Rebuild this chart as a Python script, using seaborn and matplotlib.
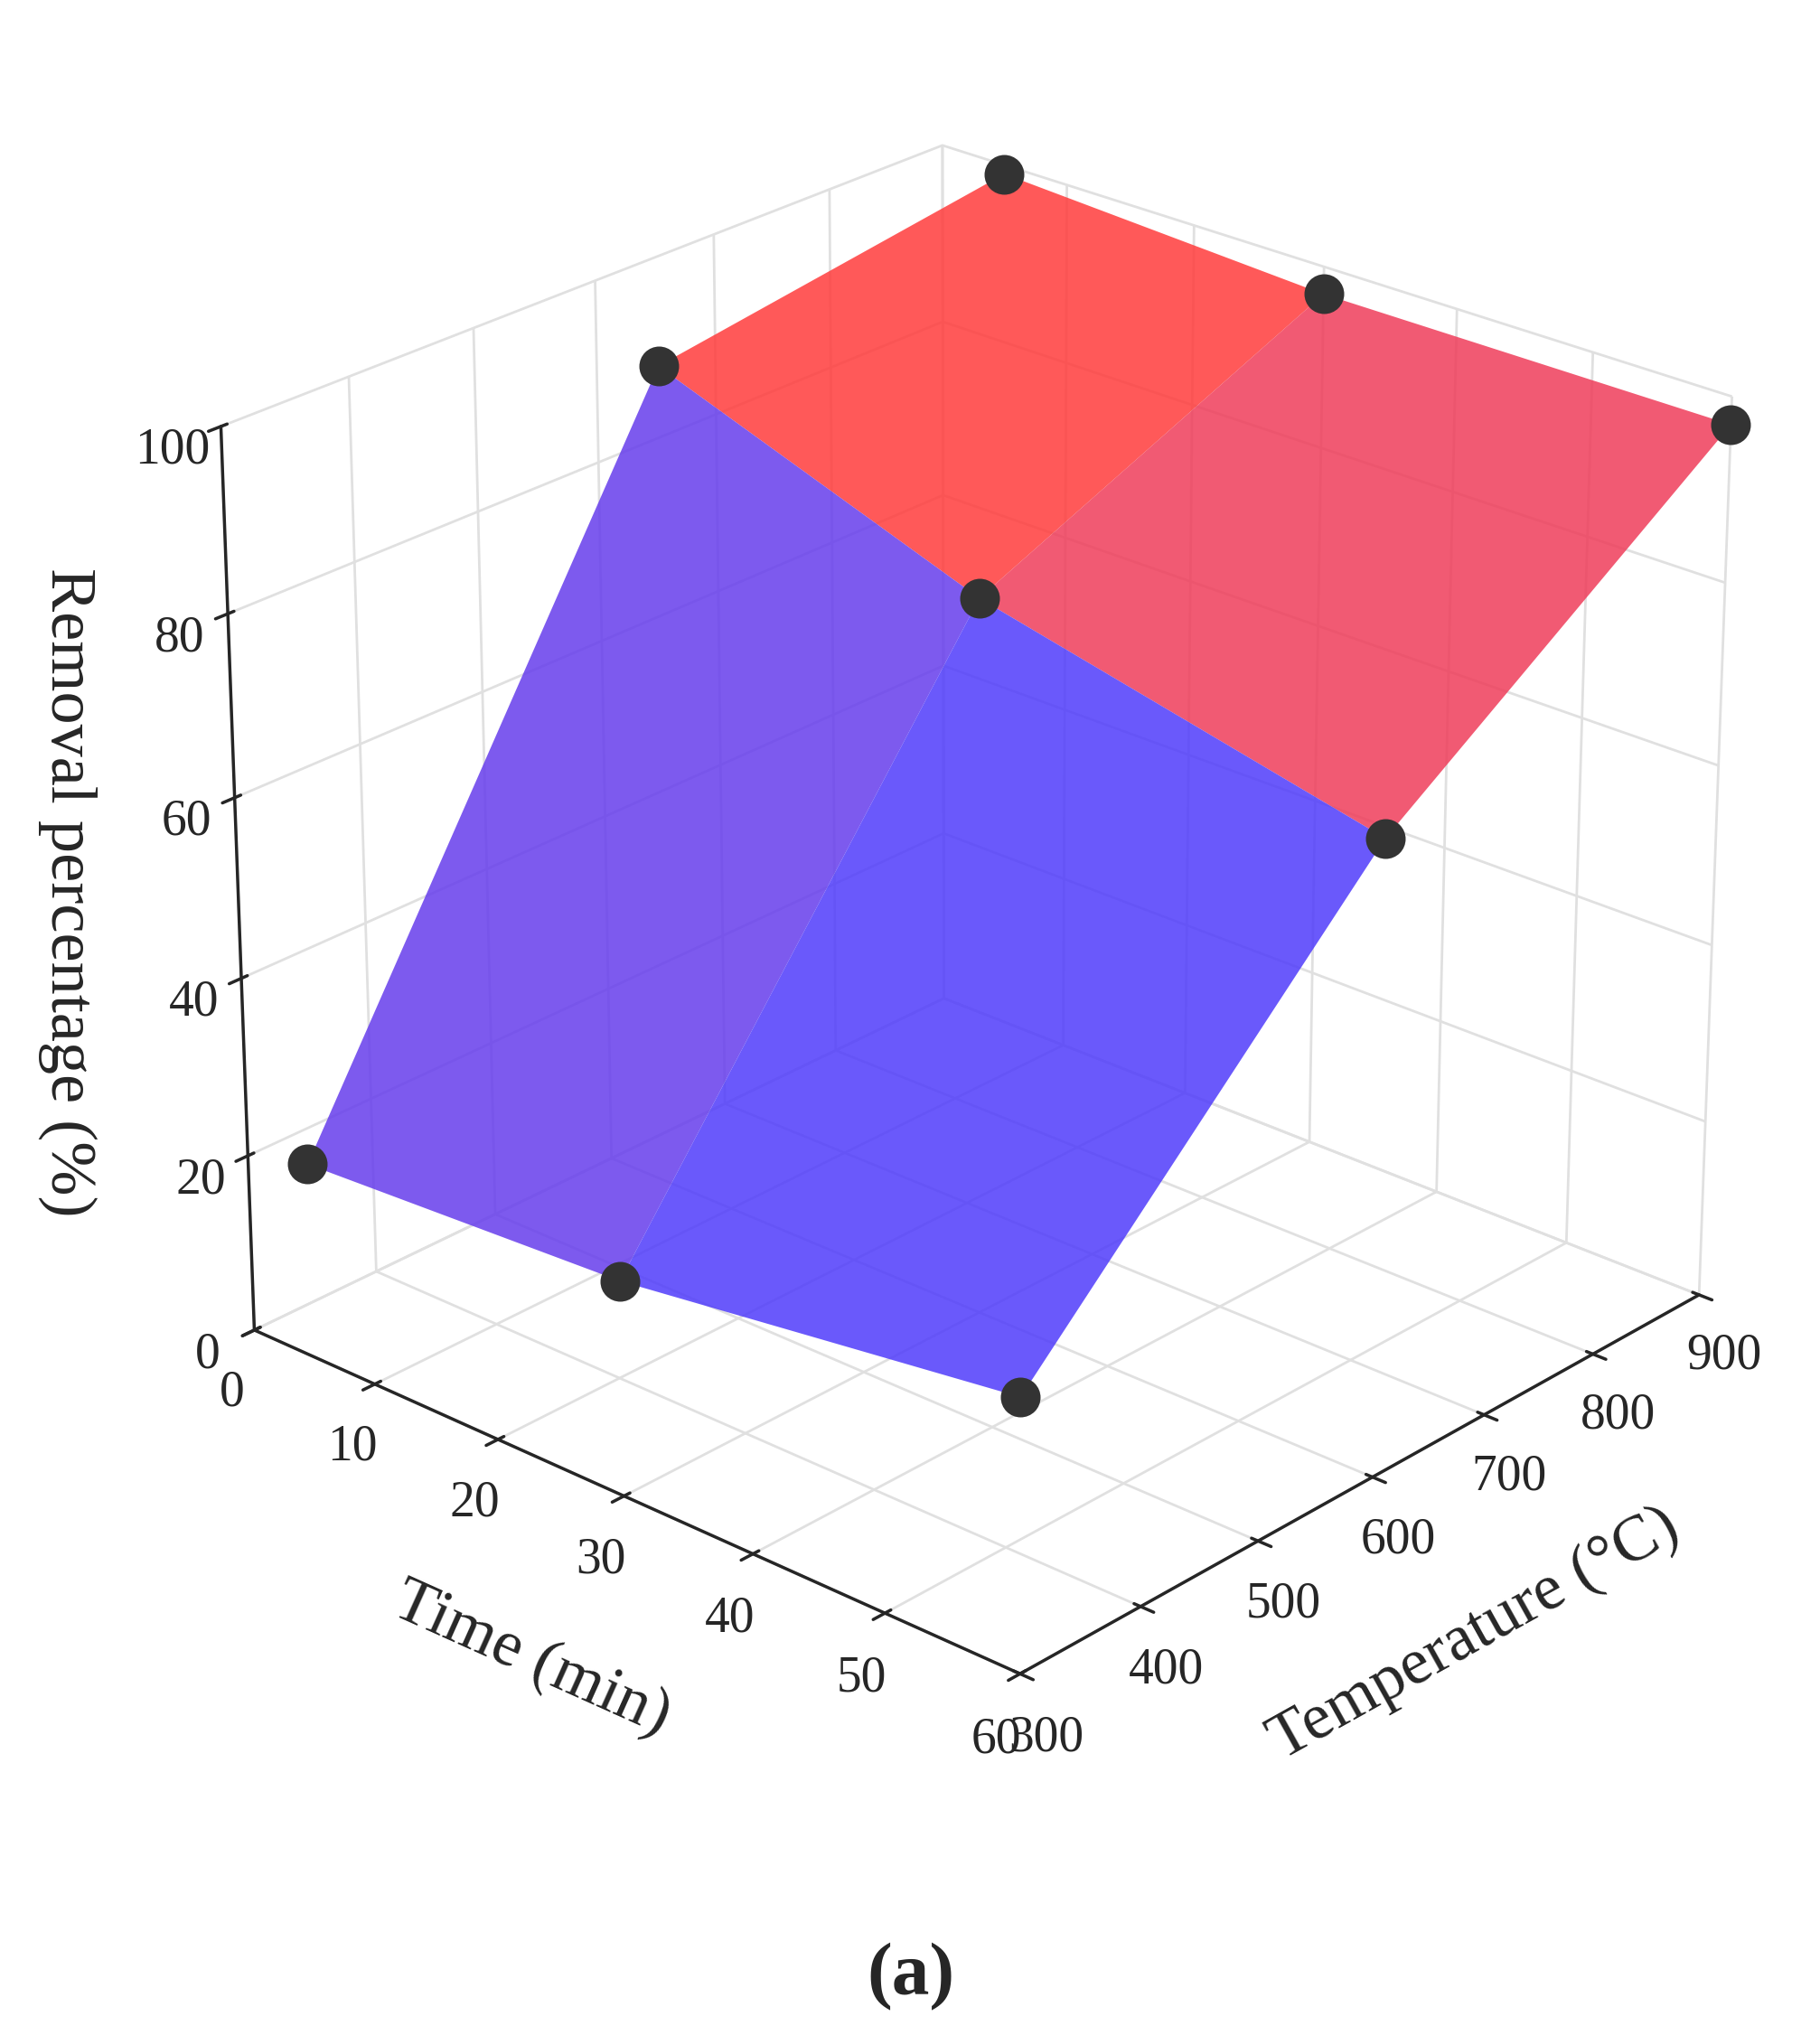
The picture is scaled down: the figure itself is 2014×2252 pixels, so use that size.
import numpy as np
import matplotlib.pyplot as plt
import seaborn as sns
from matplotlib.colors import LinearSegmentedColormap

sns.set_theme(style="white")
plt.rcParams['font.family'] = ['Liberation Serif', 'DejaVu Serif']

times = [5, 30, 60]
temps = [300, 600, 900]
removal = [[22, 24, 30],    # 300 C
           [93, 80, 70],    # 600 C
           [99, 97, 97]]    # 900 C

T, Tm = np.meshgrid(times, temps)
Z = np.array(removal, dtype=float)

cmap = LinearSegmentedColormap.from_list("br", ["#4a3cff", "#c840a8", "#ff3c3c"])

fig = plt.figure(figsize=(10.075, 11.26), dpi=200)
ax = fig.add_axes([0.05, 0.1, 0.95, 0.92], projection='3d')
ax.set_box_aspect((1, 1, 0.95))
ax.plot_surface(T, Tm, Z, cmap=cmap, vmin=50, vmax=92, alpha=0.85,
                linewidth=0, antialiased=True, shade=False)
ax.scatter(T.ravel(), Tm.ravel(), Z.ravel(), color='#333333', s=220, depthshade=False)

ax.set_xlim(0, 60)
ax.set_ylim(300, 900)
ax.set_zlim(0, 100)
ax.set_xticks([0, 10, 20, 30, 40, 50, 60])
ax.set_yticks([300, 400, 500, 600, 700, 800, 900])
ax.set_zticks([0, 20, 40, 60, 80, 100])
ax.tick_params(labelsize=20)
ax.set_xlabel('Time (min)', fontsize=26, labelpad=25)
ax.set_ylabel('Temperature (\u00b0C)', fontsize=26, labelpad=25)
ax.zaxis.set_rotate_label(False)
ax.set_zlabel('Removal percentage (%)', fontsize=26, labelpad=20, rotation=-90)
for a in (ax.xaxis, ax.yaxis, ax.zaxis):
    a.set_pane_color((1, 1, 1, 0))
    a._axinfo['grid']['color'] = (0.88, 0.88, 0.88, 1)
ax.zaxis.set_ticks_position('lower')
ax.zaxis.set_label_position('lower')
ax.view_init(elev=25, azim=-48)

fig.text(0.5, 0.02, '(a)', ha='center', fontsize=30, fontweight='bold')
fig.savefig('out.png', dpi=200)
